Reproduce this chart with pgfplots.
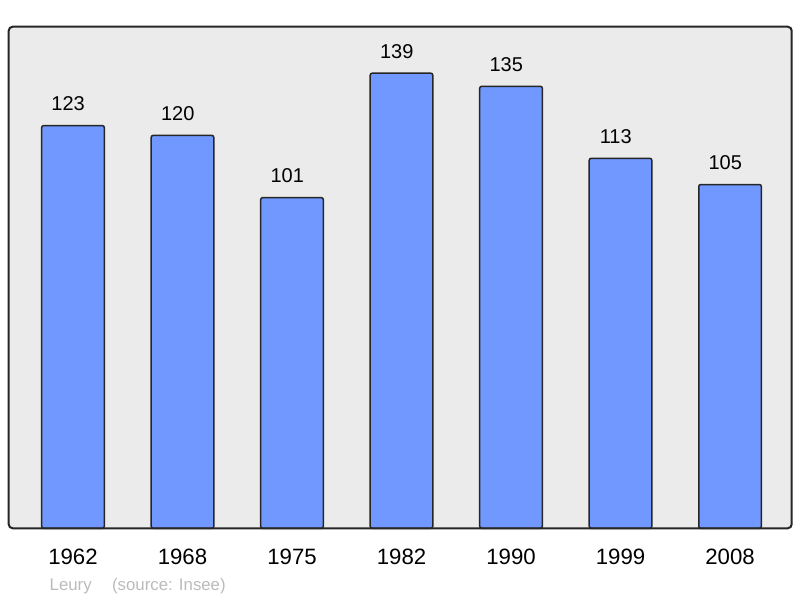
\documentclass[border=0pt]{standalone}
\usepackage{fontspec}
\setmainfont{Liberation Sans}
\usepackage{pgfplots}
\pgfplotsset{compat=1.18}

\definecolor{barblue}{HTML}{7098FF}
\definecolor{panelgray}{HTML}{EBEBEB}
\definecolor{srcgray}{HTML}{BBBBBB}

\begin{document}
\begin{tikzpicture}
    \begin{axis}[
        at={(4.35bp,34.85bp)}, anchor=south west,
        scale only axis,
        width=391.5bp, height=250.8bp,
        xmin=-0.587, xmax=6.563,
        ymin=0, ymax=153.2,
        ybar, bar width=31.3bp,
        axis background/.style={fill=panelgray},
        axis line style={draw=none},
        major tick length=0pt,
        ytick=\empty,
        xtick={0,1,2,3,4,5,6},
        xticklabels={1962,1968,1975,1982,1990,1999,2008},
        xticklabel style={font=\fontsize{11.1bp}{13bp}\selectfont, anchor=base, yshift=-18bp},
        nodes near coords,
        every node near coord/.append style={font=\fontsize{10bp}{12bp}\selectfont, anchor=base, inner sep=0pt, yshift=7.5bp, xshift=-2.4bp},
        /pgf/number format/assume math mode=true,
        clip=false,
    ]
    \addplot[fill=barblue, draw=black!85, line width=0.75bp, rounded corners=1bp]
        coordinates {(0,123) (1,120) (2,101) (3,139) (4,135) (5,113) (6,105)};
    \draw[line width=1bp, rounded corners=2bp, black!85] (rel axis cs:0,0) rectangle (rel axis cs:1,1);
    \end{axis}
    \node[anchor=base west, inner sep=0pt, text=srcgray, font=\fontsize{8.4bp}{10bp}\selectfont] at (24.65bp,3.65bp) {Leury};
    \node[anchor=base west, inner sep=0pt, text=srcgray, font=\fontsize{8.4bp}{10bp}\selectfont] at (55.85bp,3.65bp) {(source: Insee)};
    \pgfresetboundingbox
    \path[use as bounding box] (0,0) rectangle (400bp,299bp);
\end{tikzpicture}
\end{document}
